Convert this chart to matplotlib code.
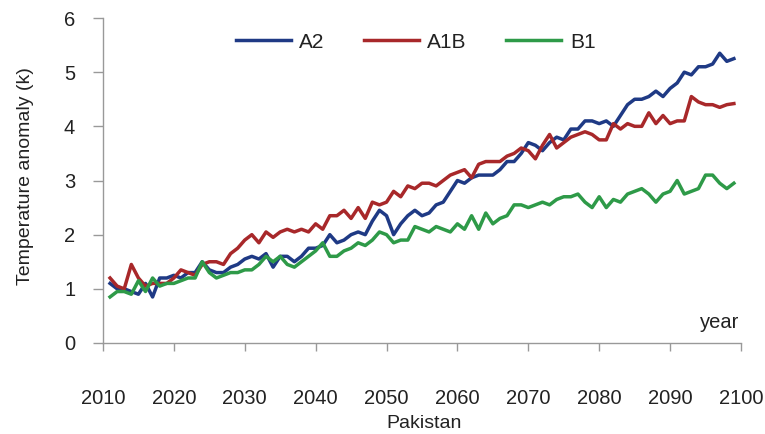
import matplotlib
matplotlib.use("Agg")
import matplotlib.pyplot as plt

plt.rcParams['font.family'] = ['Liberation Sans', 'DejaVu Sans']

years = list(range(2011, 2100))

a2 = [1.1, 1.0, 1.0, 0.95, 0.9, 1.1, 0.85, 1.2, 1.2, 1.25,
      1.2, 1.3, 1.3, 1.5, 1.35, 1.3, 1.3, 1.4, 1.45, 1.55,
      1.6, 1.55, 1.65, 1.4, 1.6, 1.6, 1.5, 1.6, 1.75, 1.75,
      1.8, 2.0, 1.85, 1.9, 2.0, 2.05, 2.0, 2.25, 2.45, 2.35,
      2.0, 2.2, 2.35, 2.45, 2.35, 2.4, 2.55, 2.6, 2.8, 3.0,
      2.95, 3.05, 3.1, 3.1, 3.1, 3.2, 3.35, 3.35, 3.5, 3.7,
      3.65, 3.55, 3.7, 3.8, 3.75, 3.95, 3.95, 4.1, 4.1, 4.05,
      4.1, 4.0, 4.2, 4.4, 4.5, 4.5, 4.55, 4.65, 4.55, 4.7,
      4.8, 5.0, 4.95, 5.1, 5.1, 5.15, 5.35, 5.2, 5.25]

a1b = [1.2, 1.05, 1.0, 1.45, 1.2, 1.05, 1.1, 1.1, 1.1, 1.2,
       1.35, 1.3, 1.25, 1.45, 1.5, 1.5, 1.45, 1.65, 1.75, 1.9,
       2.0, 1.85, 2.05, 1.95, 2.05, 2.1, 2.05, 2.1, 2.05, 2.2,
       2.1, 2.35, 2.35, 2.45, 2.3, 2.5, 2.3, 2.6, 2.55, 2.6,
       2.8, 2.7, 2.9, 2.85, 2.95, 2.95, 2.9, 3.0, 3.1, 3.15,
       3.2, 3.05, 3.3, 3.35, 3.35, 3.35, 3.45, 3.5, 3.6, 3.55,
       3.4, 3.65, 3.85, 3.6, 3.7, 3.8, 3.85, 3.9, 3.85, 3.75,
       3.75, 4.05, 3.95, 4.05, 4.0, 4.0, 4.25, 4.05, 4.2, 4.05,
       4.1, 4.1, 4.55, 4.45, 4.4, 4.4, 4.35, 4.4, 4.42]

b1 = [0.85, 0.95, 0.95, 0.9, 1.15, 0.95, 1.2, 1.05, 1.1, 1.1,
      1.15, 1.2, 1.2, 1.5, 1.3, 1.2, 1.25, 1.3, 1.3, 1.35,
      1.35, 1.45, 1.6, 1.5, 1.6, 1.45, 1.4, 1.5, 1.6, 1.7,
      1.85, 1.6, 1.6, 1.7, 1.75, 1.85, 1.8, 1.9, 2.05, 2.0,
      1.85, 1.9, 1.9, 2.15, 2.1, 2.05, 2.15, 2.1, 2.05, 2.2,
      2.1, 2.35, 2.1, 2.4, 2.2, 2.3, 2.35, 2.55, 2.55, 2.5,
      2.55, 2.6, 2.55, 2.65, 2.7, 2.7, 2.75, 2.6, 2.5, 2.7,
      2.5, 2.65, 2.6, 2.75, 2.8, 2.85, 2.75, 2.6, 2.75, 2.8,
      3.0, 2.75, 2.8, 2.85, 3.1, 3.1, 2.95, 2.85, 2.95]

series_names = ["A2", "A1B", "B1"]
colors = ["#1f3a85", "#a8282a", "#2e9a48"]
xticks = list(range(2010, 2101, 10))
yticks = list(range(0, 7))

fig = plt.figure(figsize=(7.65, 4.34), dpi=100)
ax = fig.add_axes([0.1346, 0.2097, 0.834, 0.7488])

for vals, name, c in zip([a2, a1b, b1], series_names, colors):
    ax.plot(years, vals, color=c, lw=2.5, label=name, solid_joinstyle='round')

ax.set_xlim(2010, 2100)
ax.set_ylim(0, 6)
ax.set_xticks(xticks)
ax.set_yticks(yticks)
ax.tick_params(axis='x', direction='out', length=6, width=1, color='#999999',
               pad=27, labelsize=14.5, labelcolor='#222222')
ax.tick_params(axis='y', direction='out', length=7, width=1, color='#999999',
               pad=13, labelsize=14.5, labelcolor='#222222')
for s in ['top', 'right']:
    ax.spines[s].set_visible(False)
for s in ['left', 'bottom']:
    ax.spines[s].set_color('#999999')
    ax.spines[s].set_linewidth(1)

ax.set_ylabel("Temperature anomaly (k)", fontsize=14, color='#222222')
ax.yaxis.set_label_coords(-0.108, 0.515)
fig.text(424 / 765, 1 - 423 / 434, "Pakistan", fontsize=14, color='#222222',
         ha='center', va='center')
ax.text(2099.8, 0.37, "year", fontsize=14.5, color='#222222', ha='right', va='center')

leg = ax.legend(loc='center', bbox_to_anchor=(0.49, 0.926), ncol=3, frameon=False,
                fontsize=15, handlelength=2.64, columnspacing=1.9, handletextpad=0.4)
for t in leg.get_texts():
    t.set_color('#222222')

fig.savefig("out.png", dpi=100)
